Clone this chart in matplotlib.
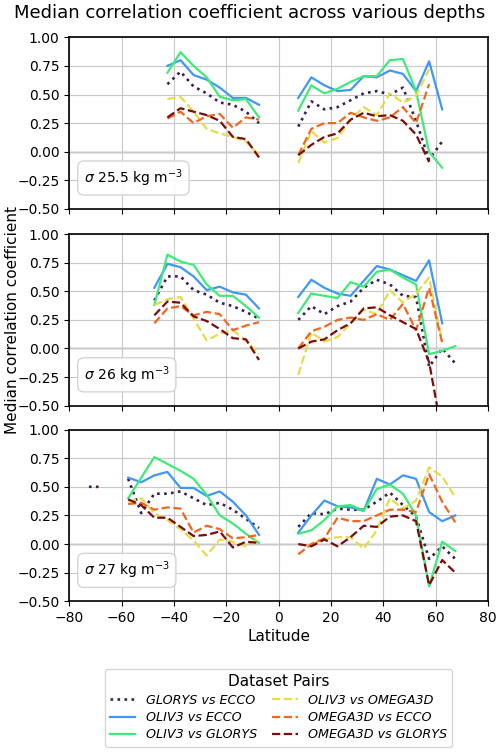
#!/usr/bin/env python3
"""Median correlation coefficient between dataset pairs vs latitude, three density levels."""

import numpy as np
import matplotlib
matplotlib.use("Agg")
import matplotlib.pyplot as plt

n = np.nan

# latitude bin centres, south and north of the equatorial gap
LAT_S = [-72.5, -67.5, -62.5, -57.5, -52.5, -47.5, -42.5, -37.5,
         -32.5, -27.5, -22.5, -17.5, -12.5, -7.5]
LAT_N = [7.5, 12.5, 17.5, 22.5, 27.5, 32.5, 37.5, 42.5, 47.5,
         52.5, 57.5, 62.5, 67.5]

PAIRS = ["GLORYS vs ECCO", "OLIV3 vs ECCO", "OLIV3 vs GLORYS",
         "OLIV3 vs OMEGA3D", "OMEGA3D vs ECCO", "OMEGA3D vs GLORYS"]
COLORS = ["#3b1f50", "#3f97f7", "#3deb78", "#e6dc4a", "#f2661e", "#7a0c0c"]
STYLES = [":", "-", "-", "--", "--", "--"]

DENSITY_LABELS = [r"$\sigma$ 25.5 kg m$^{-3}$",
                  r"$\sigma$ 26 kg m$^{-3}$",
                  r"$\sigma$ 27 kg m$^{-3}$"]

# sigma 25.5
S255_SOUTH = [
    [n, n, n, n, n, n, 0.59, 0.70, 0.57, 0.51, 0.43, 0.41, 0.35, 0.25],
    [n, n, n, n, n, n, 0.75, 0.80, 0.67, 0.63, 0.56, 0.47, 0.47, 0.41],
    [n, n, n, n, n, n, 0.69, 0.87, 0.75, 0.65, 0.48, 0.45, 0.46, 0.30],
    [n, n, n, n, n, n, 0.46, 0.48, 0.35, 0.20, 0.16, 0.13, 0.09, -0.03],
    [n, n, n, n, n, n, 0.29, 0.35, 0.25, 0.31, 0.33, 0.21, 0.30, 0.28],
    [n, n, n, n, n, n, 0.30, 0.38, 0.35, 0.32, 0.27, 0.13, 0.11, -0.05],
]
S255_NORTH = [
    [0.22, 0.44, 0.37, 0.39, 0.45, 0.51, 0.53, 0.50, 0.56, 0.27, -0.07, 0.09, n],
    [0.47, 0.65, 0.58, 0.53, 0.54, 0.66, 0.65, 0.71, 0.68, 0.53, 0.79, 0.37, n],
    [0.36, 0.58, 0.51, 0.55, 0.61, 0.66, 0.66, 0.80, 0.81, 0.53, 0.00, -0.14, n],
    [-0.10, 0.18, 0.08, 0.12, 0.28, 0.39, 0.32, 0.51, 0.43, 0.49, 0.72, n, n],
    [-0.03, 0.20, 0.25, 0.25, 0.34, 0.30, 0.27, 0.30, 0.39, 0.25, 0.59, n, n],
    [-0.03, 0.06, 0.13, 0.16, 0.28, 0.34, 0.31, 0.32, 0.27, 0.15, -0.09, n, n],
]

# sigma 26
S26_SOUTH = [
    [n, n, n, n, n, 0.42, 0.63, 0.63, 0.51, 0.47, 0.40, 0.37, 0.32, 0.26],
    [n, n, n, n, n, 0.53, 0.74, 0.71, 0.63, 0.51, 0.54, 0.49, 0.47, 0.35],
    [n, n, n, n, n, 0.38, 0.82, 0.76, 0.73, 0.56, 0.46, 0.46, 0.37, 0.27],
    [n, n, n, n, n, 0.38, 0.43, 0.45, 0.26, 0.07, 0.13, 0.16, 0.07, -0.05],
    [n, n, n, n, n, 0.22, 0.35, 0.37, 0.29, 0.32, 0.30, 0.16, 0.20, 0.23],
    [n, n, n, n, n, 0.29, 0.41, 0.40, 0.28, 0.24, 0.17, 0.09, 0.08, -0.10],
]
S26_NORTH = [
    [0.25, 0.37, 0.30, 0.37, 0.41, 0.53, 0.60, 0.56, 0.46, 0.45, -0.16, 0.00, -0.13],
    [0.45, 0.60, 0.53, 0.48, 0.46, 0.59, 0.72, 0.69, 0.64, 0.59, 0.77, 0.22, n],
    [0.31, 0.48, 0.46, 0.44, 0.58, 0.54, 0.67, 0.69, 0.62, 0.56, -0.05, -0.02, 0.02],
    [-0.23, 0.14, 0.06, 0.10, 0.22, 0.34, 0.30, 0.51, 0.40, 0.48, 0.62, 0.06, n],
    [0.00, 0.15, 0.19, 0.25, 0.27, 0.25, 0.30, 0.25, 0.39, 0.16, 0.53, 0.05, n],
    [0.00, 0.06, 0.08, 0.16, 0.22, 0.35, 0.36, 0.29, 0.23, 0.17, -0.12, -0.75, n],
]

# sigma 27
S27_SOUTH = [
    [0.50, 0.50, n, 0.57, 0.27, 0.44, 0.44, 0.46, 0.40, 0.34, 0.36, 0.30, 0.22, 0.14],
    [n, n, n, 0.58, 0.54, 0.60, 0.63, 0.49, 0.49, 0.42, 0.46, 0.37, 0.25, 0.08],
    [n, n, n, 0.40, 0.58, 0.76, 0.70, 0.64, 0.57, 0.43, 0.25, 0.18, 0.09, 0.01],
    [n, n, n, 0.37, 0.40, 0.27, 0.21, 0.13, 0.03, -0.10, 0.04, 0.02, -0.02, 0.05],
    [n, n, n, 0.35, 0.36, 0.30, 0.32, 0.31, 0.10, 0.16, 0.13, 0.05, 0.06, 0.08],
    [n, n, n, 0.39, 0.34, 0.23, 0.23, 0.15, 0.07, 0.08, 0.11, -0.03, 0.02, 0.01],
]
S27_NORTH = [
    [0.15, 0.27, 0.26, 0.31, 0.30, 0.30, 0.37, 0.45, 0.34, 0.24, -0.13, -0.02, -0.13],
    [0.10, 0.25, 0.38, 0.33, 0.32, 0.29, 0.57, 0.52, 0.60, 0.57, 0.28, 0.20, 0.25],
    [0.09, 0.12, 0.21, 0.33, 0.34, 0.29, 0.48, 0.52, 0.44, 0.25, -0.37, 0.02, -0.06],
    [n, 0.00, 0.04, 0.06, 0.06, -0.04, 0.12, 0.40, 0.31, 0.38, 0.67, 0.59, 0.41],
    [-0.09, 0.00, 0.05, 0.23, 0.20, 0.20, 0.25, 0.30, 0.30, 0.28, 0.61, 0.37, 0.19],
    [0.00, -0.02, 0.04, -0.02, 0.06, 0.16, 0.15, 0.24, 0.25, 0.20, -0.36, -0.14, -0.25],
]

PANELS = [(S255_SOUTH, S255_NORTH), (S26_SOUTH, S26_NORTH), (S27_SOUTH, S27_NORTH)]

fig = plt.figure(figsize=(5.0, 7.53), dpi=100)
left, width = 0.1386, 0.8374
bottoms = [0.7225, 0.4612, 0.2015]
height = 0.2280

lat = LAT_S + [n] + LAT_N
axes = []
for i, (south, north) in enumerate(PANELS):
    ax = fig.add_axes([left, bottoms[i], width, height])
    axes.append(ax)
    for j, pair in enumerate(PAIRS):
        vals = south[j] + [n] + north[j]
        ax.plot(lat, vals, color=COLORS[j], linestyle=STYLES[j],
                linewidth=1.6 if STYLES[j] != ":" else 1.9, label=pair)
    ax.axhline(0, color="gray", linewidth=1.0, zorder=1)
    ax.set_xlim(-80, 80)
    ax.set_ylim(-0.5, 1.0)
    ax.set_xticks(range(-80, 81, 20))
    ax.set_yticks(np.arange(-0.5, 1.01, 0.25))
    ax.grid(True, color="#c8c8c8", linewidth=0.8)
    ax.text(0.035, 0.18, DENSITY_LABELS[i], transform=ax.transAxes,
            fontsize=10, va="center", ha="left",
            bbox=dict(boxstyle="round,pad=0.45", facecolor="white",
                      edgecolor="#d0d0d0", alpha=0.9))
    for side in ax.spines.values():
        side.set_linewidth(1.2)
    if i < 2:
        ax.tick_params(labelbottom=False)

axes[2].set_xlabel("Latitude", fontsize=11, labelpad=3)
axes[1].set_ylabel("Median correlation coefficient", fontsize=11)
axes[1].yaxis.set_label_coords(-0.118, 0.5)

fig.suptitle("Median correlation coefficient across various depths",
             fontsize=13, y=0.995)

handles, labels = axes[0].get_legend_handles_labels()
leg = fig.legend(handles, labels, loc="upper center", ncol=2,
                 bbox_to_anchor=(0.557, 0.1116), borderaxespad=0,
                 title="Dataset Pairs",
                 title_fontsize=11, prop={"style": "italic", "size": 9.2},
                 handlelength=2.0, columnspacing=1.2, labelspacing=0.35,
                 borderpad=0.4, frameon=True)

fig.savefig("out.png", dpi=100)
